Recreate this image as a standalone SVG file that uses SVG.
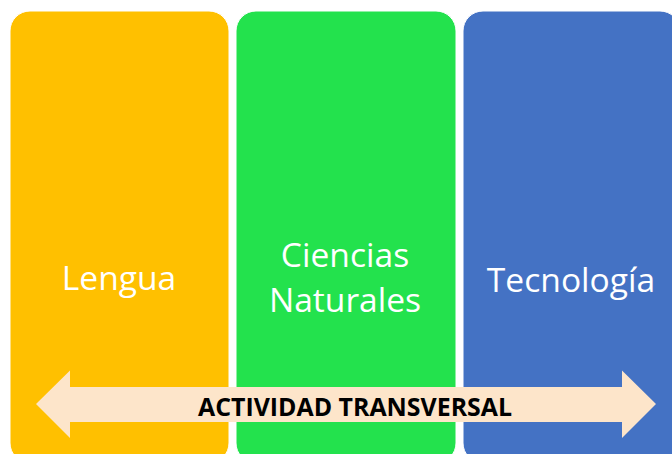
<svg xmlns="http://www.w3.org/2000/svg" width="672" height="454" viewBox="0 0 672 454">
<style>
.box{stroke:#ffffff;stroke-width:1}
.lbl{font-family:"Open Sans","Liberation Sans",sans-serif;font-size:33.6px;fill:#ffffff;text-anchor:middle}
.arr{fill:#FDE5CA}
.atxt{font-family:"Open Sans","Liberation Sans",sans-serif;font-weight:bold;font-size:24.5px;fill:#000000}
</style>
<rect width="672" height="454" fill="#ffffff"/>
<g id="lengua">
<rect class="box" x="10" y="11" width="219" height="452" rx="20" ry="20" fill="#FFC000"/>
<text class="lbl" x="119" y="290">Lengua</text>
</g>
<g id="ciencias">
<rect class="box" x="236" y="11" width="220" height="452" rx="20" ry="20" fill="#23E24D"/>
<text class="lbl" x="345" y="267">Ciencias</text>
<text class="lbl" x="345" y="312">Naturales</text>
</g>
<g id="tecnologia">
<rect class="box" x="463" y="11" width="217" height="452" rx="20" ry="20" fill="#4472C4"/>
<text class="lbl" x="571" y="292">Tecnología</text>
</g>
<g id="connectors">
<polygon class="arr" points="36,404 70,370.5 70,387 622,387 622,370.5 656,404 622,438 622,422 70,422 70,438"/>
<text class="atxt" x="198" y="415.5" textLength="314" lengthAdjust="spacingAndGlyphs">ACTIVIDAD TRANSVERSAL</text>
</g>
</svg>
